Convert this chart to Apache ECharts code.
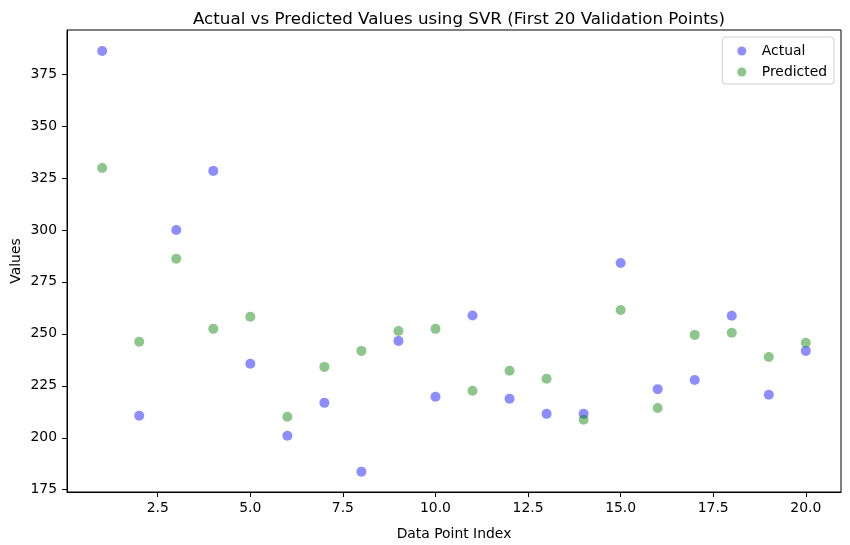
<!DOCTYPE html>
<html>
<head>
<meta charset="utf-8">
<script src="https://cdn.jsdelivr.net/npm/echarts@6/dist/echarts.min.js"></script>
<style>
  html, body { margin: 0; padding: 0; background: #fff; }
  #chart { width: 850px; height: 545px; }
</style>
</head>
<body>
<div id="chart"></div>
<script>
'use strict';

// data point index 1..20
var pointIndex = [1, 2, 3, 4, 5, 6, 7, 8, 9, 10, 11, 12, 13, 14, 15, 16, 17, 18, 19, 20];
var actualValues = [386.1, 210.6, 300.0, 328.4, 235.6, 201.0, 216.8, 183.7, 246.6, 219.7,
    258.8, 218.8, 211.5, 211.5, 284.1, 223.4, 227.8, 258.7, 220.7, 241.8];
var predictedValues = [329.8, 246.2, 286.1, 252.4, 258.2, 210.1, 234.1, 241.8, 251.4, 252.4,
    222.6, 232.2, 228.4, 208.7, 261.5, 214.3, 249.5, 250.5, 238.9, 245.7];
var xTicks = [2.5, 5.0, 7.5, 10.0, 12.5, 15.0, 17.5, 20.0];
var yTicks = [175, 200, 225, 250, 275, 300, 325, 350, 375];

function pairs(xs, ys) {
    var out = [];
    for (var i = 0; i < xs.length; i++) {
        out.push([xs[i], ys[i]]);
    }
    return out;
}

var font = 'DejaVu Sans';
var chart = echarts.init(document.getElementById('chart'), null, { renderer: 'canvas' });

var option = {
    animation: false,
    backgroundColor: '#ffffff',
    textStyle: { fontFamily: font },
    title: {
        text: 'Actual vs Predicted Values using SVR (First 20 Validation Points)',
        left: 454,
        top: 6,
        textAlign: 'center',
        textStyle: { fontFamily: font, fontSize: 16.7, fontWeight: 'normal', color: '#000' }
    },
    legend: {
        orient: 'vertical',
        right: 16,
        top: 37,
        padding: [7, 7, 5, 15],
        itemGap: 7,
        itemWidth: 30,
        itemHeight: 9,
        borderColor: '#d0d0d0',
        borderWidth: 1,
        borderRadius: 3,
        backgroundColor: 'rgba(255,255,255,0.8)',
        textStyle: { fontFamily: font, fontSize: 13.9, color: '#000' },
        data: [
            { name: 'Actual', icon: 'circle' },
            { name: 'Predicted', icon: 'circle' }
        ]
    },
    grid: {
        left: 67,
        right: 9,
        top: 30,
        bottom: 53,
        show: true,
        borderColor: '#000',
        borderWidth: 1,
        containLabel: false,
        outerBoundsMode: 'none'
    },
    xAxis: {
        type: 'value',
        min: 0.05,
        max: 20.95,
        name: 'Data Point Index',
        nameLocation: 'middle',
        nameGap: 35,
        nameMoveOverlap: false,
        nameTextStyle: { fontFamily: font, fontSize: 13.9, color: '#000' },
        axisLine: { show: true, lineStyle: { color: '#000', width: 1 } },
        axisTick: { show: true, inside: false, length: 5, customValues: xTicks, lineStyle: { color: '#000' } },
        axisLabel: {
            customValues: xTicks,
            fontFamily: font, fontSize: 13.9, color: '#000', margin: 9,
            formatter: function(v) { return v.toFixed(1); }
        },
        splitLine: { show: false }
    },
    yAxis: {
        type: 'value',
        min: 173.9,
        max: 396.2,
        name: 'Values',
        nameLocation: 'middle',
        nameGap: 44,
        nameMoveOverlap: false,
        nameTextStyle: { fontFamily: font, fontSize: 13.9, color: '#000' },
        axisLine: { show: true, lineStyle: { color: '#000', width: 1 } },
        axisTick: { show: true, inside: false, length: 5, customValues: yTicks, lineStyle: { color: '#000' } },
        axisLabel: {
            customValues: yTicks,
            fontFamily: font, fontSize: 13.9, color: '#000', margin: 10
        },
        splitLine: { show: false }
    },
    series: [{
        name: 'Actual',
        type: 'scatter',
        symbol: 'circle',
        symbolSize: 10,
        itemStyle: { color: 'rgba(0,0,255,0.56)' },
        data: pairs(pointIndex, actualValues)
    }, {
        name: 'Predicted',
        type: 'scatter',
        symbol: 'circle',
        symbolSize: 10,
        itemStyle: { color: 'rgba(0,128,0,0.56)' },
        data: pairs(pointIndex, predictedValues)
    }]
};

chart.setOption(option);
</script>
</body>
</html>
